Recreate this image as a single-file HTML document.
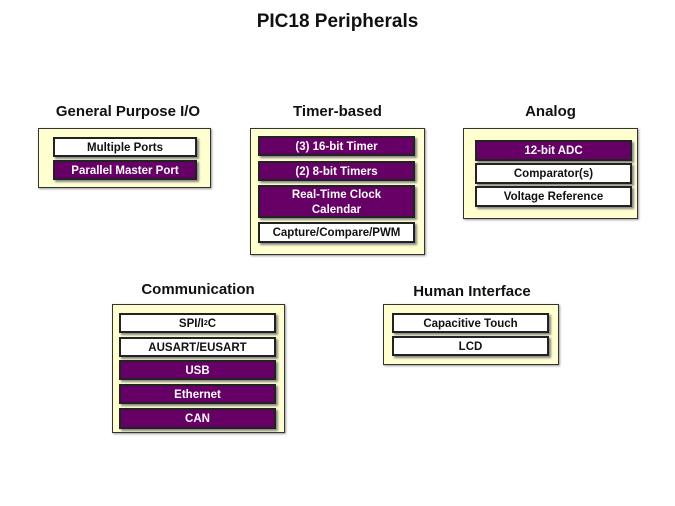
<!DOCTYPE html>
<html><head><style>
body{margin:0;width:675px;height:506px;background:#fff;position:relative;font-family:"Liberation Sans",Arial,sans-serif;overflow:hidden}
.t{position:absolute;font-weight:bold;color:#111;text-align:center;white-space:nowrap}
.p{position:absolute;background:#ffffd0;border:1px solid #333;box-sizing:border-box;box-shadow:1px 1px 2px #999}
.i{position:absolute;box-sizing:border-box;border:2px solid #222;font-weight:bold;font-size:11.5px;text-align:center;display:flex;align-items:center;justify-content:center;line-height:15px;padding-top:2px;box-shadow:2px 2px 2px #888}
.w{background:#fff;color:#111}
.u{background:#660066;color:#fff}
</style></head><body>
<div class="t" style="left:0;width:675px;top:11px;font-size:19px">PIC18 Peripherals</div>

<div class="t" style="left:30px;width:196px;top:103px;font-size:15px">General Purpose I/O</div>
<div class="p" style="left:38px;top:128px;width:173px;height:60px"></div>
<div class="i w" style="left:53px;top:137px;width:144px;height:20px">Multiple Ports</div>
<div class="i u" style="left:53px;top:160px;width:144px;height:20px">Parallel Master Port</div>

<div class="t" style="left:250px;width:175px;top:103px;font-size:15px">Timer-based</div>
<div class="p" style="left:250px;top:128px;width:175px;height:127px"></div>
<div class="i u" style="left:258px;top:136px;width:157px;height:20px">(3) 16-bit Timer</div>
<div class="i u" style="left:258px;top:161px;width:157px;height:20px">(2) 8-bit Timers</div>
<div class="i u" style="left:258px;top:185px;width:157px;height:33px">Real-Time Clock<br>Calendar</div>
<div class="i w" style="left:258px;top:222px;width:157px;height:21px">Capture/Compare/PWM</div>

<div class="t" style="left:463px;width:175px;top:103px;font-size:15px">Analog</div>
<div class="p" style="left:463px;top:128px;width:175px;height:91px"></div>
<div class="i u" style="left:475px;top:140px;width:157px;height:21px">12-bit ADC</div>
<div class="i w" style="left:475px;top:163px;width:157px;height:21px">Comparator(s)</div>
<div class="i w" style="left:475px;top:186px;width:157px;height:21px">Voltage Reference</div>

<div class="t" style="left:100px;width:196px;top:281px;font-size:15px">Communication</div>
<div class="p" style="left:112px;top:304px;width:173px;height:129px"></div>
<div class="i w" style="left:119px;top:313px;width:157px;height:20px">SPI/I<sup style="font-size:7px;line-height:0">2</sup>C</div>
<div class="i w" style="left:119px;top:337px;width:157px;height:20px">AUSART/EUSART</div>
<div class="i u" style="left:119px;top:360px;width:157px;height:20px">USB</div>
<div class="i u" style="left:119px;top:384px;width:157px;height:20px">Ethernet</div>
<div class="i u" style="left:119px;top:408px;width:157px;height:21px">CAN</div>

<div class="t" style="left:372px;width:200px;top:283px;font-size:15px">Human Interface</div>
<div class="p" style="left:383px;top:304px;width:176px;height:61px"></div>
<div class="i w" style="left:392px;top:313px;width:157px;height:20px">Capacitive Touch</div>
<div class="i w" style="left:392px;top:336px;width:157px;height:20px">LCD</div>
</body></html>
